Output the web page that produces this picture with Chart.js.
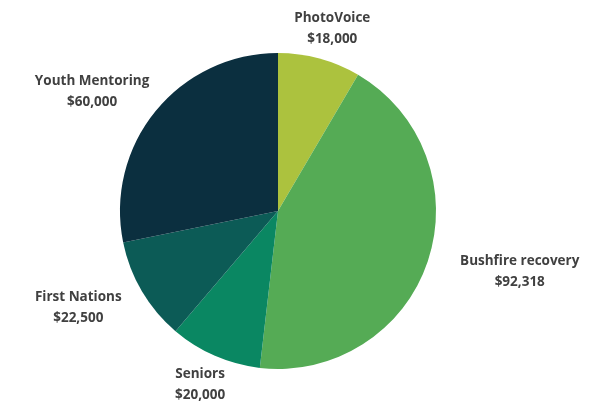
<!DOCTYPE html>
<html>
<head>
<meta charset="utf-8">
<script src="https://cdn.jsdelivr.net/npm/chart.js@4/dist/chart.umd.min.js"></script>
<style>
  html, body { margin: 0; padding: 0; background: #fff; }
  #wrap { width: 593px; height: 405px; }
</style>
</head>
<body>
<div id="wrap"><canvas id="pie"></canvas></div>
<script>
// chart data
var programs = ["PhotoVoice", "Bushfire recovery", "Seniors", "First Nations", "Youth Mentoring"];
var funding = [18000, 92318, 20000, 22500, 60000];
var sliceColours = ["#acc23e", "#55ab55", "#0a8762", "#0c5b56", "#0b2f3f"];

function dollars(v) {
    return "$" + v.toLocaleString("en-US");
}

// draws the two-line label outside each slice
var outsideLabels = {
    id: "outsideLabels",
    afterDatasetsDraw: function (chart) {
        var ctx = chart.ctx;
        var arcs = chart.getDatasetMeta(0).data;
        ctx.save();
        ctx.font = "bold 13.5px 'Open Sans', sans-serif";
        ctx.fillStyle = "#404040";
        ctx.textAlign = "center";
        ctx.textBaseline = "middle";
        arcs.forEach(function (arc, i) {
            var mid = (arc.startAngle + arc.endAngle) / 2;
            var dx = Math.cos(mid), dy = Math.sin(mid);
            var lines = [programs[i], dollars(funding[i])];
            var w = Math.max(ctx.measureText(lines[0]).width, ctx.measureText(lines[1]).width);
            var h = 42;
            // side labels sit further out than top / bottom ones
            var rx = arc.outerRadius + 10 + 32 * Math.pow(Math.abs(dx), 3);
            var ry = arc.outerRadius + 10;
            var cx = arc.x + dx * (rx + w / 2);
            var cy = arc.y + dy * (ry + h / 2);
            ctx.fillText(lines[0], cx, cy - 10);
            ctx.fillText(lines[1], cx, cy + 11);
        });
        ctx.restore();
    }
};

new Chart(document.getElementById("pie"), {
    type: "pie",
    data: {
        labels: programs,
        datasets: [{
            data: funding,
            backgroundColor: sliceColours,
            borderWidth: 0
        }]
    },
    options: {
        responsive: true,
        maintainAspectRatio: false,
        animation: false,
        layout: { padding: { top: 53, bottom: 36, left: 100, right: 137 } },
        plugins: {
            legend: { display: false },
            tooltip: { enabled: false }
        }
    },
    plugins: [outsideLabels]
});
</script>
</body>
</html>
